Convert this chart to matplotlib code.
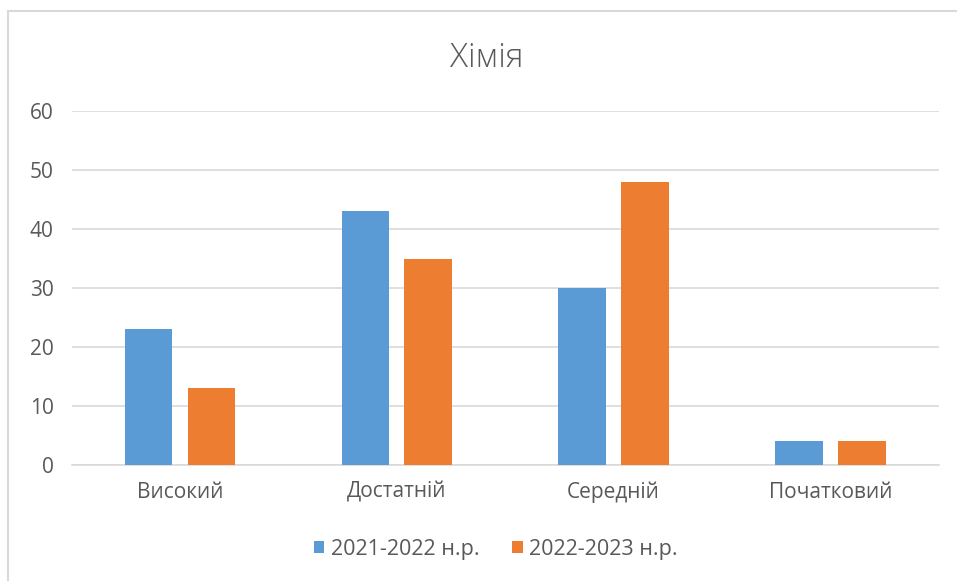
import matplotlib
matplotlib.use("Agg")
import matplotlib.pyplot as plt
import numpy as np
from matplotlib.patches import Rectangle

categories = ["Високий", "Достатній", "Середній", "Початковий"]
series_names = ["2021-2022 н.р.", "2022-2023 н.р."]
values_2021 = [23, 43, 30, 4]
values_2022 = [13, 35, 48, 4]
yticks = [0, 10, 20, 30, 40, 50, 60]

blue = "#5b9bd5"
orange = "#ed7d31"
text_col = "#595959"
grid_col = "#d9d9d9"

plt.rcParams['font.family'] = ['Open Sans', 'DejaVu Sans']

fig = plt.figure(figsize=(9.57, 5.81), dpi=100)
ax = fig.add_axes([71.5/957, (581-465)/581, 867.5/957, 354/581])

x = np.arange(len(categories))
w = 0.22
off = 0.145
ax.bar(x - off, values_2021, w, color=blue, label=series_names[0], zorder=3)
ax.bar(x + off, values_2022, w, color=orange, label=series_names[1], zorder=3)

ax.set_xlim(-0.5, len(categories) - 0.5)
ax.set_ylim(0, 60)
ax.set_yticks(yticks)
ax.set_yticklabels([str(t) for t in yticks])
ax.set_xticks(x)
ax.set_xticklabels(categories)
ax.yaxis.grid(True, color=grid_col, linewidth=1.2, zorder=0)
ax.set_axisbelow(True)
for s in ["top", "right", "left"]:
    ax.spines[s].set_visible(False)
ax.spines["bottom"].set_color(grid_col)
ax.spines["bottom"].set_linewidth(1.2)
ax.tick_params(axis="both", length=0, colors=text_col, labelsize=15)
ax.tick_params(axis="y", pad=13)
ax.tick_params(axis="x", pad=12)

fig.text(0.509, (581-58)/581, "Хімія", ha="center", va="center", fontsize=24,
         color=text_col, fontweight='light')

leg = fig.legend(loc="center", bbox_to_anchor=(0.518, (581-549)/581), ncol=2, frameon=False,
                 fontsize=15.5, handlelength=0.5, handleheight=0.5, handletextpad=0.3,
                 columnspacing=1.5, labelcolor=text_col)

fig.patches.append(Rectangle((8/957, -0.1), 1.2, (581-11)/581 + 0.1, transform=fig.transFigure,
                             fill=False, edgecolor=grid_col, linewidth=1.5, clip_on=False))

fig.savefig("out.png", dpi=100)
